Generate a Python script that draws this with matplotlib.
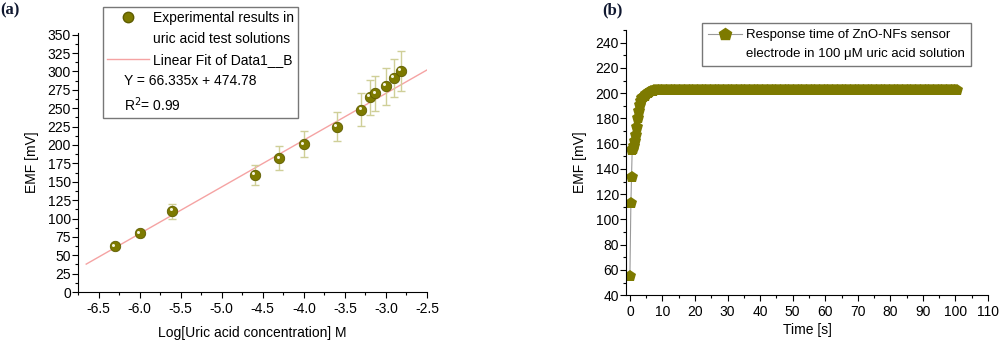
import numpy as np
import matplotlib
matplotlib.use("Agg")
import matplotlib.pyplot as plt
import matplotlib.transforms as mtransforms
from matplotlib.ticker import MultipleLocator
from matplotlib.lines import Line2D

plt.rcParams['font.family'] = ['Liberation Sans', 'DejaVu Sans']
plt.rcParams['axes.unicode_minus'] = False

# (a) calibration data
log_conc = [-6.3, -6.0, -5.6, -4.6, -4.3, -4.0, -3.6, -3.3, -3.2, -3.13, -3.0, -2.9, -2.82]
emf_a = [62, 80, 110, 159, 182, 201, 225, 248, 265, 270, 280, 291, 301]
emf_err = [3, 5, 10, 14, 16, 18, 20, 22, 24, 24, 25, 26, 27]
fit_x = [-6.65, -2.5]
fit_y = [38, 302]

# (b) response time data
t_rise = [0.0, 0.3, 0.5, 0.7, 1.0, 1.3, 1.6, 1.9, 2.2, 2.5, 2.8, 3.1, 3.4, 3.7, 4.0,
          4.5, 5.0, 5.5, 6.0, 6.5, 7.0, 7.5]
emf_rise = [55, 113, 134, 155, 156, 158, 162, 167, 173, 180, 186, 191, 194, 196, 197,
            198, 199, 200, 201, 201.5, 202, 202.3]
t_plateau = np.arange(8.0, 100.6, 0.5)
emf_plateau = [202.3] * len(t_plateau)

olive = '#7d7a00'
fig = plt.figure(figsize=(10, 3.42), dpi=100)

# ---- panel (a)
ax1 = fig.add_axes([0.078, 0.146, 0.349, 0.757])
ax1.plot(fit_x, fit_y, color='#f5a3a3', lw=1.0, zorder=1)
ax1.errorbar(log_conc, emf_a, yerr=emf_err, fmt='none', ecolor='#cfcf98',
             elinewidth=1.0, capsize=3, capthick=1.0, zorder=2)
ax1.plot(log_conc, emf_a, 'o', ms=7.5, color=olive, mec='#5e5c00', mew=0.6, zorder=3)
shift = mtransforms.ScaledTranslation(-1.2 / 72, 1.2 / 72, fig.dpi_scale_trans)
ax1.plot(log_conc, emf_a, 'o', ms=2.2, color='#f4f4e0', mew=0,
         transform=ax1.transData + shift, zorder=4)
ax1.set_xlim(-6.75, -2.5)
ax1.set_ylim(0, 352)
ax1.xaxis.set_major_locator(MultipleLocator(0.5))
ax1.xaxis.set_minor_locator(MultipleLocator(0.25))
ax1.yaxis.set_major_locator(MultipleLocator(25))
ax1.yaxis.set_minor_locator(MultipleLocator(12.5))
ax1.set_xlabel('Log[Uric acid concentration] M', fontsize=10, labelpad=7)
ax1.set_ylabel('EMF [mV]', fontsize=10, labelpad=6)

# legend box for (a)
h_pts = Line2D([], [], ls='none', marker='o', ms=7.5, color=olive, mec='#5e5c00')
h_fit = Line2D([], [], color='#f5a3a3', lw=1.0)
h_blank = Line2D([], [], ls='none')
leg1 = ax1.legend([h_pts, h_blank, h_fit, h_blank, h_blank],
                  ['Experimental results in', 'uric acid test solutions',
                   'Linear Fit of Data1__B', 'Y = 66.335x + 474.78', 'R$^2$= 0.99'],
                  loc='upper left', bbox_to_anchor=(0.103, 1 - 7 / 342),
                  bbox_transform=fig.transFigure, fontsize=10,
                  frameon=True, fancybox=False, edgecolor='#555555',
                  handlelength=3.0, handletextpad=0.3, labelspacing=0.5,
                  borderpad=0.3, borderaxespad=0)
leg1.get_frame().set_linewidth(1.0)
for txt in leg1.get_texts()[3:]:
    txt.set_x(-29)

# ---- panel (b)
ax2 = fig.add_axes([0.626, 0.137, 0.362, 0.775])
t_all = list(t_rise) + list(t_plateau)
emf_all = list(emf_rise) + list(emf_plateau)
ax2.plot(t_all, emf_all, '-', color='#999999', lw=0.8, zorder=1)
ax2.plot(t_all, emf_all, 'p', ms=9, color=olive, mew=0, zorder=2)
ax2.set_xlim(-1.2, 110)
ax2.set_ylim(40, 250)
ax2.xaxis.set_major_locator(MultipleLocator(10))
ax2.xaxis.set_minor_locator(MultipleLocator(5))
ax2.yaxis.set_major_locator(MultipleLocator(20))
ax2.yaxis.set_minor_locator(MultipleLocator(10))
ax2.set_xlabel('Time [s]', fontsize=10, labelpad=3)
ax2.set_ylabel('EMF [mV]', fontsize=10, labelpad=6)

h_resp = Line2D([], [], color='#999999', lw=0.8, marker='p', ms=9, mfc=olive, mec=olive)
leg2 = ax2.legend([h_resp, h_blank],
                  ['Response time of ZnO-NFs sensor',
                   'electrode in 100 \u03bcM uric acid solution'],
                  loc='upper right', bbox_to_anchor=(0.971, 1 - 23 / 342),
                  bbox_transform=fig.transFigure, fontsize=9.5,
                  frameon=True, fancybox=False, edgecolor='#555555',
                  handlelength=2.6, handletextpad=0.3, labelspacing=0.5,
                  borderpad=0.45, borderaxespad=0)
leg2.get_frame().set_linewidth(1.0)

for ax in (ax1, ax2):
    ax.spines['top'].set_visible(False)
    ax.spines['right'].set_visible(False)
    ax.tick_params(which='both', direction='out', labelsize=10, width=0.8)
    ax.tick_params(which='major', length=4)
    ax.tick_params(which='minor', length=2)
    ax.tick_params(axis='y', pad=1)
    ax.tick_params(axis='x', pad=3)

fig.text(0.0, 0.958, '(a)', fontsize=12, fontweight='bold', family='Liberation Serif',
         color='#101830')
fig.text(0.602, 0.958, '(b)', fontsize=12, fontweight='bold', family='Liberation Serif',
         color='#101830')

fig.savefig('out.png', dpi=100)
